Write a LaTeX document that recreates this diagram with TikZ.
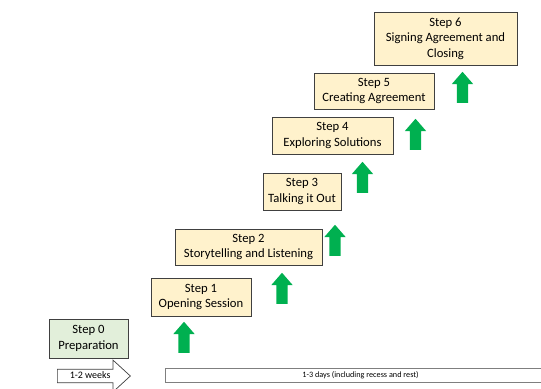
\documentclass[tikz,border=0pt]{standalone}
\usepackage{fontspec}
\setmainfont{Carlito}
\usetikzlibrary{shapes.arrows}
\usetikzlibrary{positioning}

\definecolor{stepfill}{HTML}{FFF2CC}
\definecolor{prepfill}{HTML}{E2EFDA}
\definecolor{stepline}{HTML}{404040}
\definecolor{daysline}{HTML}{7F7F7F}
\definecolor{upgreen}{HTML}{00B050}

\begin{document}
\begin{tikzpicture}[
    x=0.3mm, y=-0.3mm,
    stepbox/.style={rectangle, draw=stepline, line width=0.8pt, fill=stepfill,
        align=center, inner sep=0pt, font=\fontsize{10.8}{13.2}\selectfont},
    upshape/.style={single arrow, fill=upgreen, draw=none, rotate=90, anchor=tail,
        inner xsep=0pt, inner ysep=1.65mm, minimum height=9.3mm,
        single arrow head extend=1.5mm, single arrow tip angle=82},
    weekarrow/.style={single arrow, draw=stepline, fill=white, line width=0.6pt,
        anchor=tail, inner xsep=2pt, inner ysep=0.63mm, text height=6pt,
        text depth=1.5pt, minimum height=21.9mm, single arrow head extend=2.7mm,
        single arrow tip angle=85, font=\fontsize{8.5}{10}\selectfont},
    daysbox/.style={rectangle, draw=daysline, line width=0.8pt, fill=white,
        inner sep=0pt, font=\fontsize{7}{8}\selectfont}
]
\useasboundingbox (0,0) rectangle (541,389);

% --- Steps ---
\node[stepbox, fill=prepfill, minimum width=23.7mm, minimum height=11.7mm] (s0) at (88.5,338.5) {Step 0\\Preparation};
\node[stepbox, minimum width=30mm, minimum height=11.4mm] (s1) at (201,297) {Step 1\\Opening Session};
\node[stepbox, minimum width=44.1mm, minimum height=10.8mm] (s2) at (248.5,247) {Step 2\\Storytelling and Listening};
\node[stepbox, minimum width=23.4mm, minimum height=11.1mm] (s3) at (302,191.5) {Step 3\\Talking it Out};
\node[stepbox, minimum width=36.3mm, minimum height=11.1mm] (s4) at (332.5,135.5) {Step 4\\Exploring Solutions};
\node[stepbox, minimum width=36mm, minimum height=10.8mm] (s5) at (374,91) {Step 5\\Creating Agreement};
\node[stepbox, minimum width=42.9mm, minimum height=15.9mm] (s6) at (445.5,38.5) {Step 6\\Signing Agreement and\\Closing};

% --- Green arrows ---
\foreach \n/\x/\y in {1/184/353, 2/282/304, 3/335/256, 4/362.5/193, 5/415.5/150, 6/462.5/103}
    \node[upshape] (up\n) at (\x,\y) {};

% --- Time line ---
\node[weekarrow] (weeks) at (57,376) {1-2 weeks};
\node[daysbox, minimum width=117.3mm, minimum height=4.2mm] (days) at (360.5,375) {1-3 days (including recess and rest)};

\end{tikzpicture}
\end{document}
